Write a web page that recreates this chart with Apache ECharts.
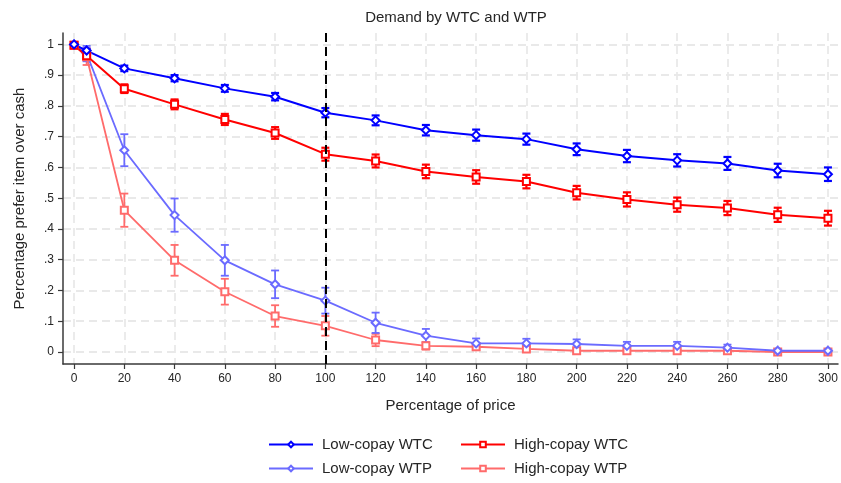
<!DOCTYPE html>
<html>
<head>
<meta charset="utf-8">
<script src="https://cdn.jsdelivr.net/npm/echarts@6/dist/echarts.min.js"></script>
<style>
  html, body { margin: 0; padding: 0; background: #fff; }
  #chart { width: 841px; height: 483px; }
</style>
</head>
<body>
<div id="chart"></div>
<script>
// Price levels (percentage of price) at which preference was elicited
const priceLevels = [0, 5, 20, 40, 60, 80, 100, 120, 140, 160, 180, 200, 220, 240, 260, 280, 300];

// Share preferring the item over cash, with half-width of the confidence interval
const lowWTC     = [1.000, 0.980, 0.922, 0.890, 0.857, 0.830, 0.778, 0.753, 0.721, 0.705, 0.692, 0.659, 0.637, 0.623, 0.613, 0.590, 0.578];
const lowWTCErr  = [0.003, 0.006, 0.009, 0.010, 0.011, 0.012, 0.015, 0.016, 0.017, 0.018, 0.018, 0.019, 0.020, 0.020, 0.021, 0.022, 0.022];
const highWTC    = [0.997, 0.963, 0.856, 0.805, 0.756, 0.712, 0.643, 0.621, 0.587, 0.569, 0.554, 0.518, 0.496, 0.479, 0.468, 0.446, 0.435];
const highWTCErr = [0.004, 0.008, 0.014, 0.016, 0.018, 0.019, 0.021, 0.021, 0.022, 0.022, 0.022, 0.022, 0.023, 0.023, 0.023, 0.023, 0.024];
const lowWTP     = [1.000, 0.970, 0.656, 0.445, 0.298, 0.220, 0.167, 0.095, 0.053, 0.028, 0.028, 0.026, 0.020, 0.020, 0.014, 0.004, 0.004];
const lowWTPErr  = [0.003, 0.025, 0.052, 0.054, 0.050, 0.045, 0.042, 0.033, 0.022, 0.016, 0.015, 0.015, 0.013, 0.013, 0.010, 0.005, 0.005];
const highWTP    = [0.997, 0.960, 0.461, 0.298, 0.196, 0.117, 0.085, 0.039, 0.020, 0.017, 0.010, 0.004, 0.004, 0.004, 0.004, 0.000, 0.000];
const highWTPErr = [0.004, 0.027, 0.054, 0.050, 0.042, 0.035, 0.032, 0.020, 0.012, 0.011, 0.008, 0.005, 0.005, 0.005, 0.005, 0.002, 0.002];

// Axis ticks
const xTicks = [0, 20, 40, 60, 80, 100, 120, 140, 160, 180, 200, 220, 240, 260, 280, 300];
const yTicks = [0, 0.1, 0.2, 0.3, 0.4, 0.5, 0.6, 0.7, 0.8, 0.9, 1];
const referencePrice = 100;

const FONT = '"Liberation Sans", Arial, sans-serif';
const TEXT = '#262626';

function pairs(ys) {
  return priceLevels.map((x, i) => [x, ys[i]]);
}
function bands(ys, errs) {
  return priceLevels.map((x, i) => [x, ys[i] - errs[i], ys[i] + errs[i]]);
}

function errorBarSeries(name, ys, errs, color, width) {
  return {
    type: 'custom',
    name: name + ' CI',
    data: bands(ys, errs),
    encode: { x: 0, y: [1, 2] },
    clip: false,
    z: 3,
    silent: true,
    renderItem: function (params, api) {
      const x = api.value(0);
      const lo = api.coord([x, api.value(1)]);
      const hi = api.coord([x, api.value(2)]);
      const cap = 4;
      const style = { stroke: color, lineWidth: width };
      return {
        type: 'group',
        children: [
          { type: 'line', shape: { x1: lo[0], y1: lo[1], x2: hi[0], y2: hi[1] }, style: style },
          { type: 'line', shape: { x1: lo[0] - cap, y1: lo[1], x2: lo[0] + cap, y2: lo[1] }, style: style },
          { type: 'line', shape: { x1: hi[0] - cap, y1: hi[1], x2: hi[0] + cap, y2: hi[1] }, style: style }
        ]
      };
    }
  };
}

function lineSeries(name, ys, color, symbol, size, width, extra) {
  return Object.assign({
    type: 'line',
    name: name,
    data: pairs(ys),
    symbol: symbol,
    symbolSize: size,
    showAllSymbol: true,
    clip: false,
    z: 4,
    lineStyle: { color: color, width: width },
    itemStyle: { color: '#ffffff', borderColor: color, borderWidth: 2 },
    emphasis: { disabled: true },
    animation: false
  }, extra || {});
}

function legendItem(name, left, top) {
  return {
    left: left, top: top, orient: 'horizontal',
    itemWidth: 44, itemHeight: 7, itemGap: 0,
    data: [name],
    textStyle: { fontFamily: FONT, fontSize: 15, color: TEXT, padding: [0, 0, 0, 4] }
  };
}

const cBlue = '#0000ff', cRed = '#ff0000', cLightBlue = '#6b6bff', cLightRed = '#ff6b6b';

const chart = echarts.init(document.getElementById('chart'), null, { renderer: 'canvas' });
chart.setOption({
  backgroundColor: '#ffffff',
  animation: false,
  title: {
    text: 'Demand by WTC and WTP',
    left: 451, top: 5, textAlign: 'center',
    textStyle: { fontFamily: FONT, fontSize: 15, fontWeight: 'normal', color: TEXT }
  },
  grid: { left: 63, right: 3, top: 33, bottom: 119 },
  xAxis: {
    type: 'value',
    min: -4.4, max: 304,
    name: 'Percentage of price',
    nameLocation: 'middle',
    nameGap: 34,
    nameTextStyle: { fontFamily: FONT, fontSize: 15, color: TEXT },
    axisLine: { show: true, onZero: false, lineStyle: { color: '#3a3a3a', width: 1.5 } },
    axisTick: { show: true, length: 5, customValues: xTicks, lineStyle: { color: '#3a3a3a', width: 1.2 } },
    axisLabel: { customValues: xTicks, margin: 9, fontFamily: FONT, fontSize: 12, color: TEXT },
    splitLine: { show: true, lineStyle: { color: '#e9e9e9', width: 1.8, type: [8, 5] } }
  },
  yAxis: {
    type: 'value',
    min: -0.039, max: 1.037,
    name: 'Percentage prefer item over cash',
    nameLocation: 'middle',
    nameGap: 36,
    nameTextStyle: { fontFamily: FONT, fontSize: 15, color: TEXT },
    axisLine: { show: true, onZero: false, lineStyle: { color: '#3a3a3a', width: 1.5 } },
    axisTick: { show: true, length: 5, customValues: yTicks, lineStyle: { color: '#3a3a3a', width: 1.2 } },
    axisLabel: {
      customValues: yTicks, margin: 9, fontFamily: FONT, fontSize: 12, color: TEXT,
      formatter: function (v) {
        const r = Math.round(v * 10) / 10;
        if (r === 0) return '0';
        if (r === 1) return '1';
        return r.toFixed(1).replace(/^0/, '');
      }
    },
    splitLine: { show: true, lineStyle: { color: '#e9e9e9', width: 1.8, type: [8, 5] } }
  },
  legend: [
    legendItem('Low-copay WTC', 263, 432),
    legendItem('Low-copay WTP', 263, 456),
    legendItem('High-copay WTC', 455, 432),
    legendItem('High-copay WTP', 455, 456)
  ],
  series: [
    errorBarSeries('High-copay WTP', highWTP, highWTPErr, cLightRed, 1.8),
    errorBarSeries('Low-copay WTP', lowWTP, lowWTPErr, cLightBlue, 1.8),
    errorBarSeries('High-copay WTC', highWTC, highWTCErr, cRed, 2.2),
    errorBarSeries('Low-copay WTC', lowWTC, lowWTCErr, cBlue, 2.2),
    lineSeries('High-copay WTP', highWTP, cLightRed, 'rect', 7, 1.8),
    lineSeries('Low-copay WTP', lowWTP, cLightBlue, 'diamond', 8, 1.8),
    lineSeries('High-copay WTC', highWTC, cRed, 'rect', 7, 2, {
      markLine: {
        silent: true,
        symbol: 'none',
        label: { show: false },
        lineStyle: { color: '#000000', width: 2, type: [9, 5] },
        data: [{ xAxis: referencePrice }]
      }
    }),
    lineSeries('Low-copay WTC', lowWTC, cBlue, 'diamond', 8, 2)
  ]
});
</script>
</body>
</html>
